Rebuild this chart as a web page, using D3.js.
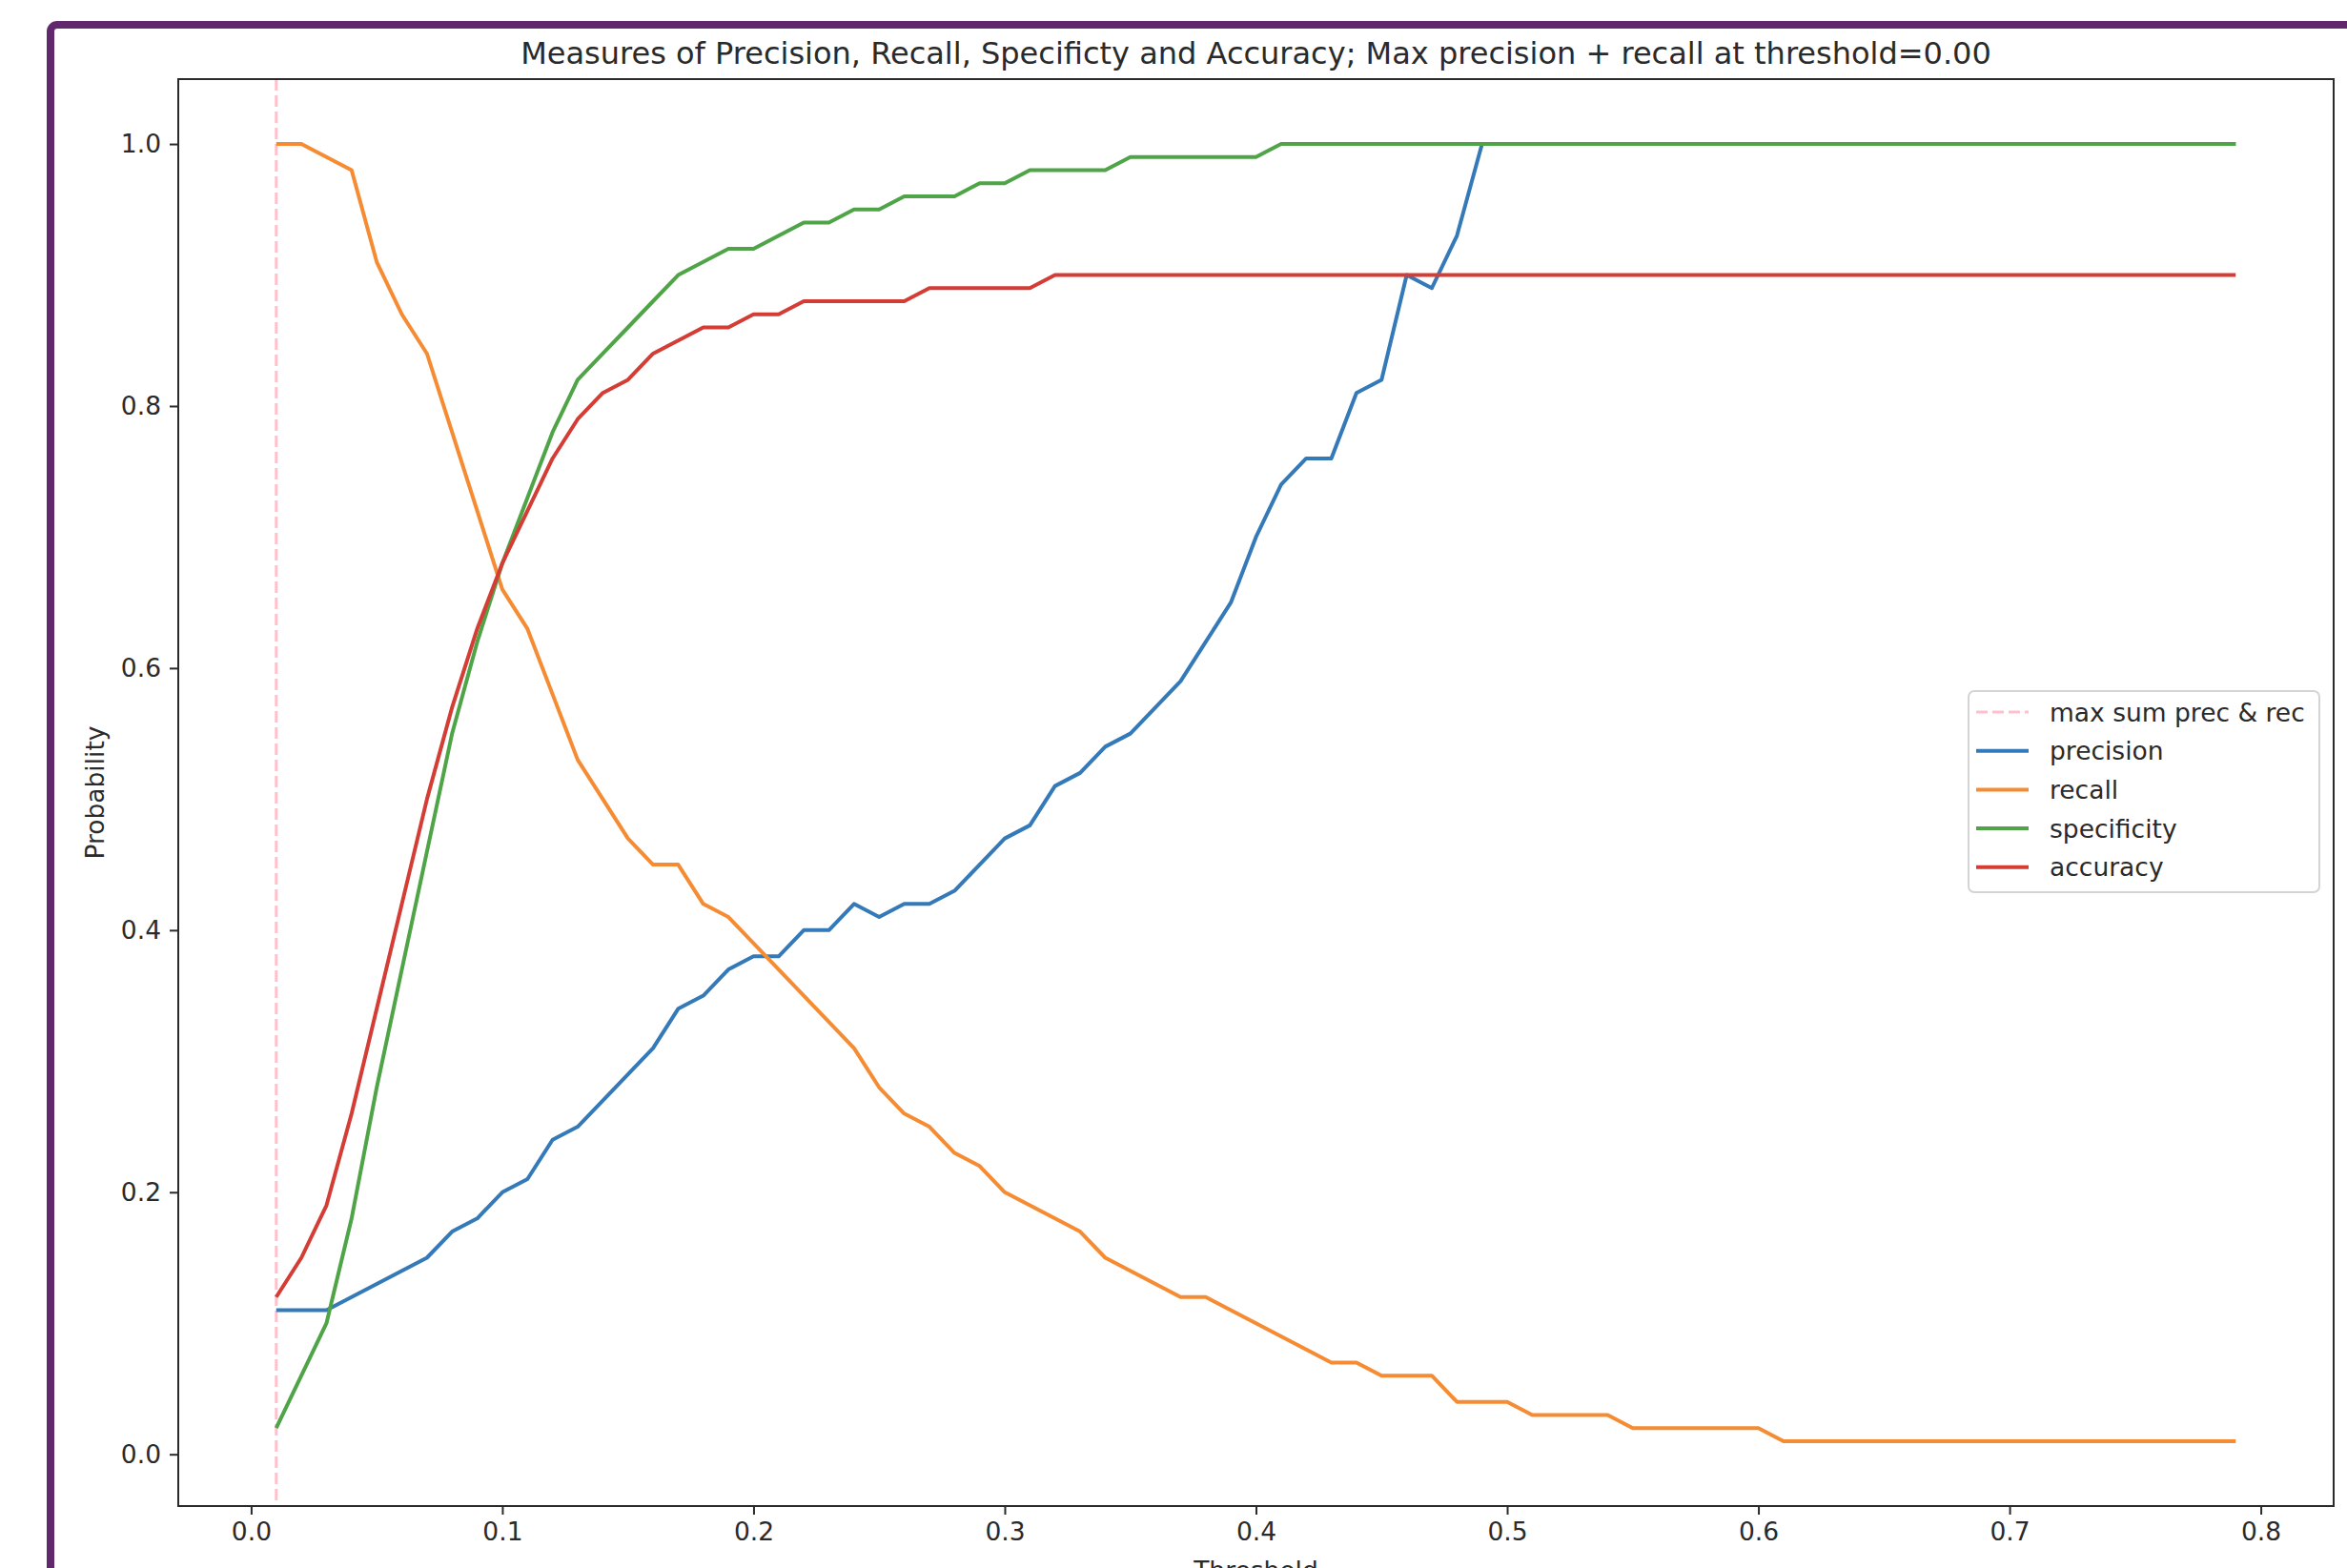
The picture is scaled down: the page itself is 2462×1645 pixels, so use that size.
<!DOCTYPE html>
<html>
<head>
<meta charset="utf-8">
<script src="https://cdn.jsdelivr.net/npm/d3@7"></script>
<style>
  body { margin: 0; background: #fff; }
  svg { display: block; font-family: "DejaVu Sans", sans-serif; }
</style>
</head>
<body>
<div id="chart"></div>
<script>
// thresholds 0.01 .. 0.79
const thresholds = [
  0.01, 0.02, 0.03, 0.04, 0.05, 0.06, 0.07, 0.08, 0.09, 0.10,
  0.11, 0.12, 0.13, 0.14, 0.15, 0.16, 0.17, 0.18, 0.19, 0.20,
  0.21, 0.22, 0.23, 0.24, 0.25, 0.26, 0.27, 0.28, 0.29, 0.30,
  0.31, 0.32, 0.33, 0.34, 0.35, 0.36, 0.37, 0.38, 0.39, 0.40,
  0.41, 0.42, 0.43, 0.44, 0.45, 0.46, 0.47, 0.48, 0.49, 0.50,
  0.51, 0.52, 0.53, 0.54, 0.55, 0.56, 0.57, 0.58, 0.59, 0.60,
  0.61, 0.62, 0.63, 0.64, 0.65, 0.66, 0.67, 0.68, 0.69, 0.70,
  0.71, 0.72, 0.73, 0.74, 0.75, 0.76, 0.77, 0.78, 0.79
];

const precision = [
  0.11, 0.11, 0.11, 0.12, 0.13, 0.14, 0.15, 0.17, 0.18, 0.20,
  0.21, 0.24, 0.25, 0.27, 0.29, 0.31, 0.34, 0.35, 0.37, 0.38,
  0.38, 0.40, 0.40, 0.42, 0.41, 0.42, 0.42, 0.43, 0.45, 0.47,
  0.48, 0.51, 0.52, 0.54, 0.55, 0.57, 0.59, 0.62, 0.65, 0.70,
  0.74, 0.76, 0.76, 0.81, 0.82, 0.90, 0.89, 0.93, 1.00, 1.00,
  1.00, 1.00, 1.00, 1.00, 1.00, 1.00, 1.00, 1.00, 1.00, 1.00,
  1.00, 1.00, 1.00, 1.00, 1.00, 1.00, 1.00, 1.00, 1.00, 1.00,
  1.00, 1.00, 1.00, 1.00, 1.00, 1.00, 1.00, 1.00, 1.00
];

const recall = [
  1.00, 1.00, 0.99, 0.98, 0.91, 0.87, 0.84, 0.78, 0.72, 0.66,
  0.63, 0.58, 0.53, 0.50, 0.47, 0.45, 0.45, 0.42, 0.41, 0.39,
  0.37, 0.35, 0.33, 0.31, 0.28, 0.26, 0.25, 0.23, 0.22, 0.20,
  0.19, 0.18, 0.17, 0.15, 0.14, 0.13, 0.12, 0.12, 0.11, 0.10,
  0.09, 0.08, 0.07, 0.07, 0.06, 0.06, 0.06, 0.04, 0.04, 0.04,
  0.03, 0.03, 0.03, 0.03, 0.02, 0.02, 0.02, 0.02, 0.02, 0.02,
  0.01, 0.01, 0.01, 0.01, 0.01, 0.01, 0.01, 0.01, 0.01, 0.01,
  0.01, 0.01, 0.01, 0.01, 0.01, 0.01, 0.01, 0.01, 0.01
];

const specificity = [
  0.02, 0.06, 0.10, 0.18, 0.28, 0.37, 0.46, 0.55, 0.62, 0.68,
  0.73, 0.78, 0.82, 0.84, 0.86, 0.88, 0.90, 0.91, 0.92, 0.92,
  0.93, 0.94, 0.94, 0.95, 0.95, 0.96, 0.96, 0.96, 0.97, 0.97,
  0.98, 0.98, 0.98, 0.98, 0.99, 0.99, 0.99, 0.99, 0.99, 0.99,
  1.00, 1.00, 1.00, 1.00, 1.00, 1.00, 1.00, 1.00, 1.00, 1.00,
  1.00, 1.00, 1.00, 1.00, 1.00, 1.00, 1.00, 1.00, 1.00, 1.00,
  1.00, 1.00, 1.00, 1.00, 1.00, 1.00, 1.00, 1.00, 1.00, 1.00,
  1.00, 1.00, 1.00, 1.00, 1.00, 1.00, 1.00, 1.00, 1.00
];

const accuracy = [
  0.12, 0.15, 0.19, 0.26, 0.34, 0.42, 0.50, 0.57, 0.63, 0.68,
  0.72, 0.76, 0.79, 0.81, 0.82, 0.84, 0.85, 0.86, 0.86, 0.87,
  0.87, 0.88, 0.88, 0.88, 0.88, 0.88, 0.89, 0.89, 0.89, 0.89,
  0.89, 0.90, 0.90, 0.90, 0.90, 0.90, 0.90, 0.90, 0.90, 0.90,
  0.90, 0.90, 0.90, 0.90, 0.90, 0.90, 0.90, 0.90, 0.90, 0.90,
  0.90, 0.90, 0.90, 0.90, 0.90, 0.90, 0.90, 0.90, 0.90, 0.90,
  0.90, 0.90, 0.90, 0.90, 0.90, 0.90, 0.90, 0.90, 0.90, 0.90,
  0.90, 0.90, 0.90, 0.90, 0.90, 0.90, 0.90, 0.90, 0.90
];

const bestThreshold = 0.01;
const xTicks = [0.0, 0.1, 0.2, 0.3, 0.4, 0.5, 0.6, 0.7, 0.8];
const yTicks = [0.0, 0.2, 0.4, 0.6, 0.8, 1.0];

const series = [
  { name: "precision", values: precision, color: "#3479b8" },
  { name: "recall", values: recall, color: "#f58c33" },
  { name: "specificity", values: specificity, color: "#4ea447" },
  { name: "accuracy", values: accuracy, color: "#d33d35" }
];

const width = 2462;
const height = 1645;
const margin = { top: 83, right: 14, bottom: 65, left: 187 };
const ink = "#2a2a2a";

const svg = d3.select("#chart")
  .append("svg")
  .attr("width", width)
  .attr("height", height);

// purple notebook frame (runs off right/bottom)
svg.append("rect")
  .attr("x", 53)
  .attr("y", 26)
  .attr("width", width + 40)
  .attr("height", height + 40)
  .attr("rx", 7)
  .attr("fill", "#fff")
  .attr("stroke", "#62286e")
  .attr("stroke-width", 8);

// matplotlib-style 5% padding on the data range
const allY = series.flatMap(s => s.values);
const xExt = d3.extent(thresholds);
const yExt = d3.extent(allY);
const xPad = (xExt[1] - xExt[0]) * 0.05;
const yPad = (yExt[1] - yExt[0]) * 0.05;

const x = d3.scaleLinear()
  .domain([xExt[0] - xPad, xExt[1] + xPad])
  .range([margin.left, width - margin.right]);

const y = d3.scaleLinear()
  .domain([yExt[0] - yPad, yExt[1] + yPad])
  .range([height - margin.bottom, margin.top]);

// X-axis
svg.append("g")
  .attr("transform", `translate(0, ${height - margin.bottom})`)
  .call(d3.axisBottom(x).tickValues(xTicks).tickFormat(d3.format(".1f")).tickSize(9).tickPadding(8))
  .call(g => g.select(".domain").remove())
  .call(g => g.selectAll(".tick line").attr("stroke", ink).attr("stroke-width", 2))
  .call(g => g.selectAll(".tick text").attr("fill", ink).attr("font-size", 26.5)
    .attr("font-family", "DejaVu Sans"));

// Y-axis
svg.append("g")
  .attr("transform", `translate(${margin.left}, 0)`)
  .call(d3.axisLeft(y).tickValues(yTicks).tickFormat(d3.format(".1f")).tickSize(9).tickPadding(9))
  .call(g => g.select(".domain").remove())
  .call(g => g.selectAll(".tick line").attr("stroke", ink).attr("stroke-width", 2))
  .call(g => g.selectAll(".tick text").attr("fill", ink).attr("font-size", 26.5)
    .attr("font-family", "DejaVu Sans"));

// best threshold marker
svg.append("line")
  .attr("x1", x(bestThreshold))
  .attr("x2", x(bestThreshold))
  .attr("y1", margin.top)
  .attr("y2", height - margin.bottom)
  .attr("stroke", "pink")
  .attr("stroke-width", 3)
  .attr("stroke-dasharray", "12,5");

// Draw lines
const line = d3.line()
  .x((d, i) => x(thresholds[i]))
  .y(d => y(d));

svg.selectAll(".series")
  .data(series)
  .enter()
  .append("path")
  .attr("class", "series")
  .attr("d", d => line(d.values))
  .attr("fill", "none")
  .attr("stroke", d => d.color)
  .attr("stroke-width", 4)
  .attr("stroke-linejoin", "round");

// axes box
svg.append("rect")
  .attr("x", margin.left)
  .attr("y", margin.top)
  .attr("width", width - margin.left - margin.right)
  .attr("height", height - margin.top - margin.bottom)
  .attr("fill", "none")
  .attr("stroke", ink)
  .attr("stroke-width", 2);

// Title and axis labels
svg.append("text")
  .attr("x", (margin.left + width - margin.right) / 2)
  .attr("y", 67)
  .attr("text-anchor", "middle")
  .attr("font-size", 32)
  .attr("fill", ink)
  .text("Measures of Precision, Recall, Specificty and Accuracy; Max precision + recall at threshold=0.00");

svg.append("text")
  .attr("transform", `translate(99, ${(margin.top + height - margin.bottom) / 2}) rotate(-90)`)
  .attr("text-anchor", "middle")
  .attr("dominant-baseline", "central")
  .attr("font-size", 26.5)
  .attr("fill", ink)
  .text("Probability");

// x label sits mostly below the cropped screenshot edge, as in the original
svg.append("text")
  .attr("x", (margin.left + width - margin.right) / 2)
  .attr("y", 1657)
  .attr("text-anchor", "middle")
  .attr("font-size", 26.5)
  .attr("fill", ink)
  .text("Threshold");

// Legend
const legendItems = [{ name: "max sum prec & rec", color: "pink", dash: "12,5" }]
  .concat(series.map(s => ({ name: s.name, color: s.color, dash: null })));

const legend = svg.append("g").attr("transform", "translate(2065, 725)");

legend.append("rect")
  .attr("width", 368)
  .attr("height", 211)
  .attr("rx", 6)
  .attr("fill", "#fff")
  .attr("fill-opacity", 0.8)
  .attr("stroke", "#d4d4d4")
  .attr("stroke-width", 2);

const rows = legend.selectAll(".row")
  .data(legendItems)
  .enter()
  .append("g")
  .attr("class", "row")
  .attr("transform", (d, i) => `translate(0, ${22 + i * 40.7})`);

rows.append("line")
  .attr("x1", 8)
  .attr("x2", 63)
  .attr("stroke", d => d.color)
  .attr("stroke-width", d => d.dash ? 3 : 4)
  .attr("stroke-dasharray", d => d.dash);

rows.append("text")
  .attr("x", 85)
  .attr("dominant-baseline", "central")
  .attr("font-size", 26.5)
  .attr("fill", ink)
  .text(d => d.name);
</script>
</body>
</html>
